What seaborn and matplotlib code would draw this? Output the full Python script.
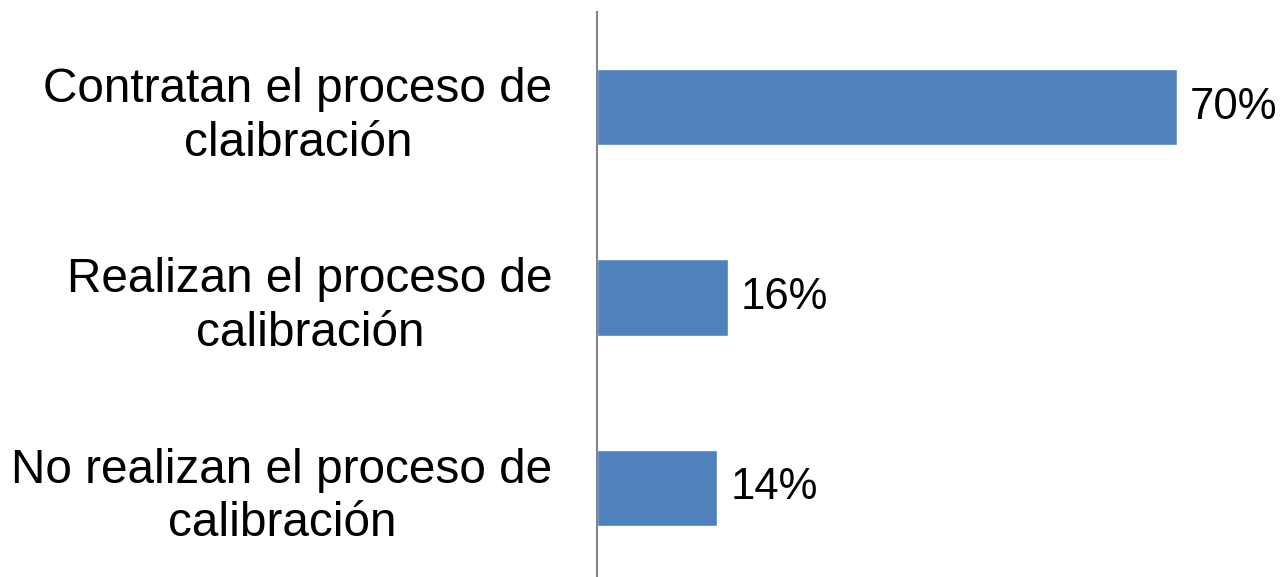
import matplotlib
matplotlib.use("Agg")
import matplotlib.pyplot as plt
import seaborn as sns
import pandas as pd

categories = [
    "Contratan el proceso de\nclaibración",
    "Realizan el proceso de\ncalibración",
    "No realizan el proceso de\ncalibración",
]
values = [70, 15.8, 14.5]
value_labels = ["70%", "16%", "14%"]

sns.set_theme(style="white")
plt.rcParams["font.family"] = ["Liberation Sans", "DejaVu Sans"]

df = pd.DataFrame({"cat": categories, "val": values})

fig = plt.figure(figsize=(12.82, 5.77), dpi=100)
ax = fig.add_axes([597 / 1282, 1 - 583 / 577, 685 / 1282, 571 / 577])

sns.barplot(data=df, y="cat", x="val", orient="h", color="#4F81BD",
            width=0.4, saturation=1, ax=ax)

ax.set_xlim(0, 685 / (580 / 70))
ax.set_ylim(2.5, -0.5)
ax.set_xlabel("")
ax.set_ylabel("")
ax.set_xticks([])
for s in ["top", "right", "bottom"]:
    ax.spines[s].set_visible(False)
ax.spines["left"].set_color("#868686")
ax.spines["left"].set_linewidth(1.5)

ax.tick_params(axis="y", length=0, pad=32, labelsize=34.4)
for t in ax.get_yticklabels():
    t.set_multialignment("center")
    t.set_linespacing(1.24)
    t.set_color("black")

for i, (v, lab) in enumerate(zip(values, value_labels)):
    ax.annotate(lab, xy=(v, i), xytext=(9.5, 0), textcoords="offset points",
                va="center", ha="left", fontsize=31.5, color="black")

fig.savefig("out.png", dpi=100)
